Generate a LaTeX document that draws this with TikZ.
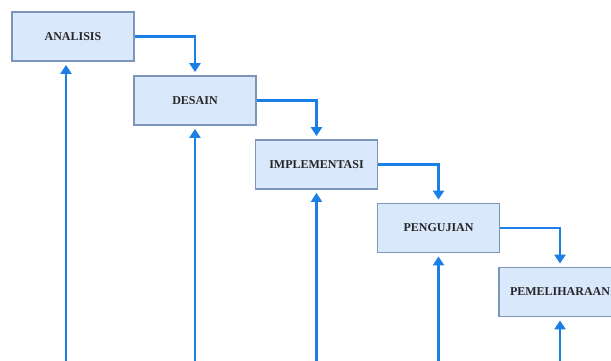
\documentclass[tikz,border=0pt]{standalone}
\usepackage{fontspec}
\setmainfont{Liberation Serif}
\usetikzlibrary{arrows.meta}
\definecolor{boxfill}{HTML}{DAE8FC}
\definecolor{boxdraw}{HTML}{7C95B8}
\definecolor{arrowblue}{HTML}{1A80E6}
\tikzset{
  phase/.style={draw=boxdraw, line width=1.8pt, fill=boxfill, minimum width=122pt, minimum height=49pt, inner sep=0pt, font=\bfseries\fontsize{12}{14}\selectfont, text=black!85},
  flow/.style={draw=arrowblue, line width=2.4pt, -{Triangle[width=11pt,length=9pt]}, shorten >=3pt},
}
\begin{document}
\begin{tikzpicture}[x=1pt,y=-1pt]
\useasboundingbox (0,0) rectangle (611,360);
\clip (0,0) rectangle (611,360);
\node[phase] (a) at (73,36.5) {ANALISIS};
\node[phase] (d) at (195,100.5) {DESAIN};
\node[phase] (i) at (316.5,164.5) {IMPLEMENTASI};
\node[phase] (p) at (438.5,228) {PENGUJIAN};
\node[phase] (m) at (560,292) {PEMELIHARAAN};
\draw[flow] (a.east) -| (d.north);
\draw[flow] (d.east) -| (i.north);
\draw[flow] (i.east) -| (p.north);
\draw[flow] (p.east) -| (m.north);
\coordinate (ab) at (66,362);
\coordinate (db) at (195,362);
\coordinate (ib) at (316.5,362);
\coordinate (pb) at (438.5,362);
\coordinate (mb) at (560,362);
\draw[flow] (ab) -- (ab |- a.south);
\draw[flow] (db) -- (d.south);
\draw[flow] (ib) -- (i.south);
\draw[flow] (pb) -- (p.south);
\draw[flow] (mb) -- (m.south);
\end{tikzpicture}
\end{document}
